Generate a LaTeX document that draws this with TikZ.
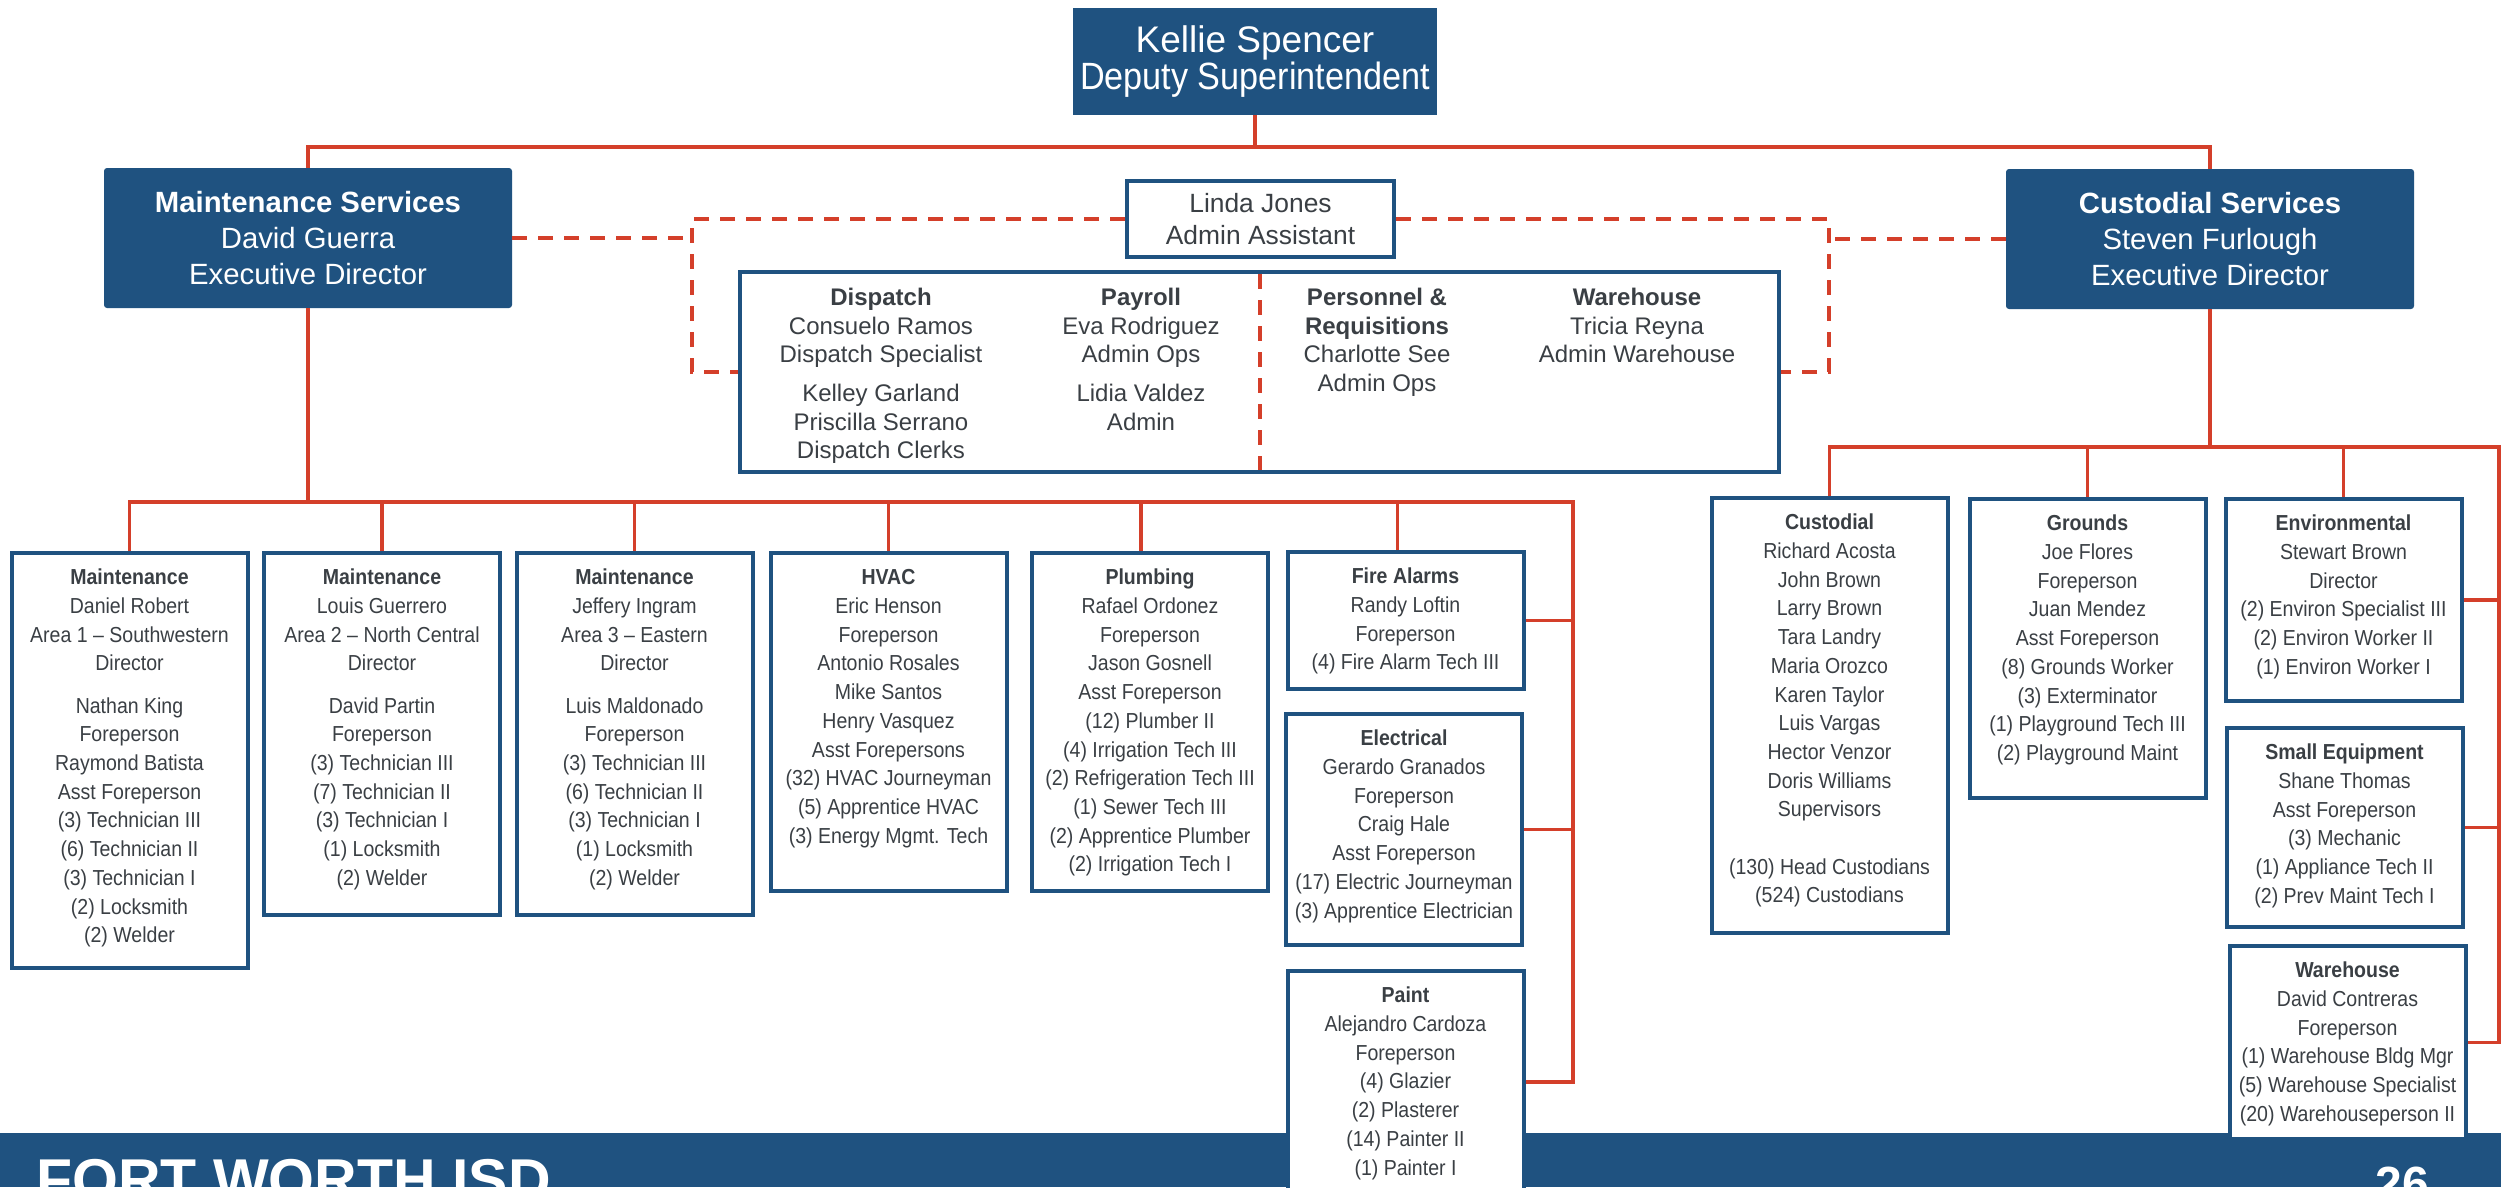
\documentclass[tikz,border=0pt]{standalone}
\usepackage{fontspec}
\setmainfont{Liberation Sans}
\newfontfamily\condfont[FakeStretch=0.9]{Liberation Sans}
\definecolor{fwblue}{HTML}{1F5280}
\definecolor{fwred}{HTML}{D43F2A}
\definecolor{fwgray}{HTML}{3A3F44}
\tikzset{
  headbox/.style={fill=fwblue, text=white, inner sep=0pt, align=center},
  adminbox/.style={draw=fwblue, line width=4pt, fill=white, text=fwgray, align=center, inner sep=0pt},
  staffcol/.style={anchor=north, inner sep=0pt, align=center, text=fwgray, font=\fontsize{24}{28.5}\selectfont},
  unitbox/.style={draw=fwblue, line width=4pt, fill=white, inner sep=4pt, anchor=north, text=fwgray},
  redline/.style={fwred, line width=3.5pt},
  dashline/.style={fwred, line width=4pt, dash pattern=on 15pt off 11pt},
  footer/.style={text=white, inner sep=0pt, font=\fontsize{59}{59}\selectfont\bfseries}
}
\newcommand{\ubox}[2]{\begin{minipage}[t][#1][t]{228pt}\centering\condfont\fontsize{21.7}{28.7}\selectfont\rule{0pt}{27.8pt}#2\end{minipage}}

\begin{document}
\begin{tikzpicture}[x=1pt,y=-1pt]

\useasboundingbox (0,0) rectangle (2501,1187);
\clip (0,0) rectangle (2501,1187);
\fill[white] (0,0) rectangle (2501,1187);
\fill[fwblue] (0,1133) rectangle (2501,1187);
\node[footer, anchor=base west] (brand) at (36,1200) {FORT WORTH ISD};
\node[footer, anchor=base east, font=\fontsize{48}{48}\selectfont\bfseries] (pagenum) at (2429,1200) {26};

\node[headbox, minimum width=364pt, minimum height=107pt, font=\fontsize{37}{36.6}\selectfont] (kellie) at (1255,61.5) {Kellie Spencer\\{\condfont\fontsize{38}{36.6}\selectfont Deputy Superintendent}};
\node[headbox, rounded corners=3pt, minimum width=408pt, minimum height=140pt, font=\fontsize{29.3}{36}\selectfont] (msvc) at (308,238) {\textbf{Maintenance Services}\\David Guerra\\Executive Director};
\node[headbox, rounded corners=3pt, minimum width=408pt, minimum height=140pt, font=\fontsize{29.3}{36}\selectfont] (csvc) at (2210,239) {\textbf{Custodial Services}\\Steven Furlough\\Executive Director};

\node[adminbox, minimum width=267pt, minimum height=76pt, font=\fontsize{26.4}{32}\selectfont] (linda) at (1260.5,219) {Linda Jones\\Admin Assistant};
\node[adminbox, minimum width=1039pt, minimum height=200pt] (staff) at (1259.5,372) {};
\node[staffcol] (dispatch) at (881,280) {\rule{0pt}{25.6pt}\textbf{Dispatch}\\Consuelo Ramos\\Dispatch Specialist\\[10.5pt]Kelley Garland\\Priscilla Serrano\\Dispatch Clerks};
\node[staffcol] (payroll) at (1141,280) {\rule{0pt}{25.6pt}\textbf{Payroll}\\Eva Rodriguez\\Admin Ops\\[10.5pt]Lidia Valdez\\Admin};
\node[staffcol] (personnel) at (1377,280) {\rule{0pt}{25.6pt}\textbf{Personnel \&}\\\textbf{Requisitions}\\Charlotte See\\Admin Ops};
\node[staffcol] (whadmin) at (1637,280) {\rule{0pt}{25.6pt}\textbf{Warehouse}\\Tricia Reyna\\Admin Warehouse};

\node[unitbox] (area1) at (129.5,551) {\ubox{407pt}{\textbf{Maintenance}\\Daniel Robert\\Area 1 – Southwestern\\Director\\[13.5pt]Nathan King\\Foreperson\\Raymond Batista\\Asst Foreperson\\(3) Technician III\\(6) Technician II\\(3) Technician I\\(2) Locksmith\\(2) Welder}};
\node[unitbox] (area2) at (382,551) {\ubox{354pt}{\textbf{Maintenance}\\Louis Guerrero\\Area 2 – North Central\\Director\\[13.5pt]David Partin\\Foreperson\\(3) Technician III\\(7) Technician II\\(3) Technician I\\(1) Locksmith\\(2) Welder}};
\node[unitbox] (area3) at (634.5,551) {\ubox{354pt}{\textbf{Maintenance}\\Jeffery Ingram\\Area 3 – Eastern\\Director\\[13.5pt]Luis Maldonado\\Foreperson\\(3) Technician III\\(6) Technician II\\(3) Technician I\\(1) Locksmith\\(2) Welder}};
\node[unitbox] (hvac) at (888.5,551) {\ubox{330pt}{\textbf{HVAC}\\Eric Henson\\Foreperson\\Antonio Rosales\\Mike Santos\\Henry Vasquez\\Asst Forepersons\\(32) HVAC Journeyman\\(5) Apprentice HVAC\\(3) Energy Mgmt. Tech}};
\node[unitbox] (plumbing) at (1150,551) {\ubox{330pt}{\textbf{Plumbing}\\Rafael Ordonez\\Foreperson\\Jason Gosnell\\Asst Foreperson\\(12) Plumber II\\(4) Irrigation Tech III\\(2) Refrigeration Tech III\\(1) Sewer Tech III\\(2) Apprentice Plumber\\(2) Irrigation Tech I}};
\node[unitbox] (firealarm) at (1405.5,550) {\ubox{129pt}{\textbf{Fire Alarms}\\Randy Loftin\\Foreperson\\(4) Fire Alarm Tech III}};
\node[unitbox] (electrical) at (1404,712) {\ubox{223pt}{\textbf{Electrical}\\Gerardo Granados\\Foreperson\\Craig Hale\\Asst Foreperson\\(17) Electric Journeyman\\(3) Apprentice Electrician}};
\node[unitbox] (paint) at (1405.5,969) {\ubox{214pt}{\textbf{Paint}\\Alejandro Cardoza\\Foreperson\\(4) Glazier\\(2) Plasterer\\(14) Painter II\\(1) Painter I}};

\node[unitbox] (custodial) at (1829.5,496) {\ubox{427pt}{\textbf{Custodial}\\Richard Acosta\\John Brown\\Larry Brown\\Tara Landry\\Maria Orozco\\Karen Taylor\\Luis Vargas\\Hector Venzor\\Doris Williams\\Supervisors\\[28.7pt](130) Head Custodians\\(524) Custodians}};
\node[unitbox] (grounds) at (2087.5,497) {\ubox{291pt}{\textbf{Grounds}\\Joe Flores\\Foreperson\\Juan Mendez\\Asst Foreperson\\(8) Grounds Worker\\(3) Exterminator\\(1) Playground Tech III\\(2) Playground Maint}};
\node[unitbox] (environ) at (2343.5,497) {\ubox{194pt}{\textbf{Environmental}\\Stewart Brown\\Director\\(2) Environ Specialist III\\(2) Environ Worker II\\(1) Environ Worker I}};
\node[unitbox] (smallequip) at (2344.5,726) {\ubox{191pt}{\textbf{Small Equipment}\\Shane Thomas\\Asst Foreperson\\(3) Mechanic\\(1) Appliance Tech II\\(2) Prev Maint Tech I}};
\node[unitbox] (warehouse) at (2347.5,944) {\ubox{185pt}{\textbf{Warehouse}\\David Contreras\\Foreperson\\(1) Warehouse Bldg Mgr\\(5) Warehouse Specialist\\(20) Warehouseperson II}};

\coordinate (topjoin) at (1255,147);
\coordinate (mjoin) at (308,502);
\coordinate (mcorner) at (1573,502);
\coordinate (ccorner) at (2499,447);
\coordinate (lbus) at (692,0);
\coordinate (rbus) at (1829,0);
\coordinate (plumbtop) at ([xshift=-9pt]plumbing.north);
\coordinate (firetop) at ([xshift=-8pt]firealarm.north);

\draw[redline] (kellie.south) -- (topjoin);
\draw[redline] (msvc.north) |- (topjoin) -| (csvc.north);

\draw[redline] (msvc.south) -- (mjoin);
\draw[redline] (area1.north) |- (mcorner) |- (paint.east);
\draw[redline] (area2.north) -- (area2.north |- mcorner);
\draw[redline] (area3.north) -- (area3.north |- mcorner);
\draw[redline] (hvac.north) -- (hvac.north |- mcorner);
\draw[redline] (plumbtop) -- (plumbtop |- mcorner);
\draw[redline] (firetop) -- (firetop |- mcorner);
\draw[redline] (firealarm.east) -- (firealarm.east -| mcorner);
\draw[redline] (electrical.east) -- (electrical.east -| mcorner);

\draw[redline] (csvc.south) -- (csvc.south |- ccorner);
\draw[redline] (custodial.north) |- (ccorner) |- (warehouse.east);
\draw[redline] (grounds.north) -- (grounds.north |- ccorner);
\draw[redline] (environ.north) -- (environ.north |- ccorner);
\draw[redline] (environ.east) -- (environ.east -| ccorner);
\draw[redline] (smallequip.east) -- (smallequip.east -| ccorner);

\draw[dashline] (msvc.east) -- (msvc.east -| lbus);
\draw[dashline] (linda.west) -| (staff.west -| lbus) -- (staff.west);
\draw[dashline] (linda.east) -| (staff.east -| rbus) -- (staff.east);
\draw[dashline] (csvc.west) -- (csvc.west -| rbus);
\draw[dashline] ([yshift=-4pt]staff.north) -- ([yshift=4pt]staff.south);

\end{tikzpicture}
\end{document}
